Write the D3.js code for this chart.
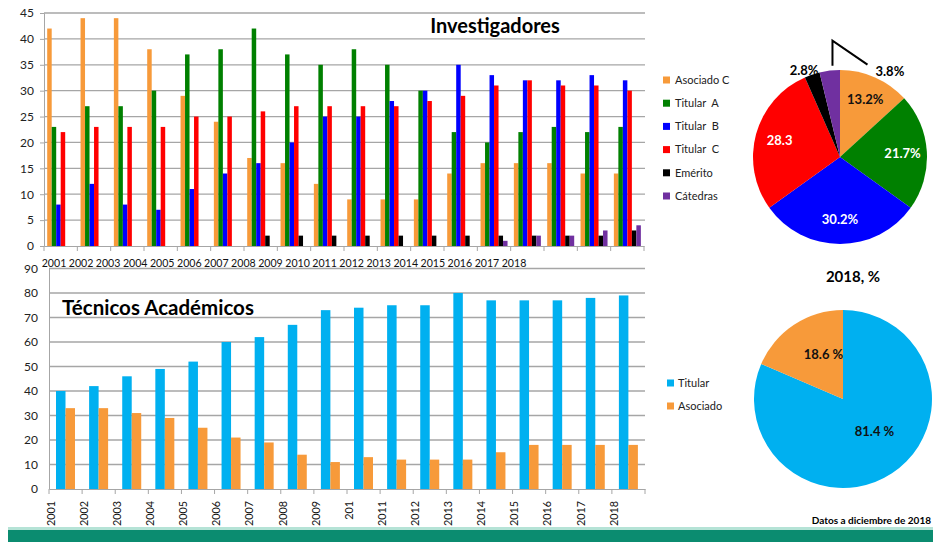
<!DOCTYPE html>
<html>
<head>
<meta charset="utf-8">
<script src="https://cdn.jsdelivr.net/npm/d3@7"></script>
<style>
  body { margin: 0; background: #fff; }
  svg { font-family: Lato, "Open Sans", sans-serif; }
  text { white-space: pre; }
</style>
</head>
<body>
<div id="chart"></div>
<script>
// --- data ---
var years = ['2001','2002','2003','2004','2005','2006','2007','2008','2009',
  '2010','2011','2012','2013','2014','2015','2016','2017','2018'];
var invSeries = ['Asociado C', 'Titular  A', 'Titular  B', 'Titular  C', 'Emérito', 'Cátedras'];
var invColors = ['#f79a3a', '#008000', '#0000ff', '#ff0000', '#000000', '#7030a0'];

var asociadoC = [42, 44, 44, 38, 29, 24, 17, 16, 12, 9, 9, 9, 14, 16, 16, 16, 14, 14];
var titularA  = [23, 27, 27, 30, 37, 38, 42, 37, 35, 38, 35, 30, 22, 20, 22, 23, 22, 23];
var titularB  = [8, 12, 8, 7, 11, 14, 16, 20, 25, 25, 28, 30, 35, 33, 32, 32, 33, 32];
var titularC  = [22, 23, 23, 23, 25, 25, 26, 27, 27, 27, 27, 28, 29, 31, 32, 31, 31, 30];
var emerito   = [0, 0, 0, 0, 0, 0, 2, 2, 2, 2, 2, 2, 2, 2, 2, 2, 2, 3];
var catedras  = [0, 0, 0, 0, 0, 0, 0, 0, 0, 0, 0, 0, 0, 1, 2, 2, 3, 4];

var tecSeries = ['Titular', 'Asociado'];
var tecColors = ['#00b0f0', '#f79a3a'];
var tecTitular  = [40, 42, 46, 49, 52, 60, 62, 67, 73, 74, 75, 75, 80, 77, 77, 77, 78, 79];
var tecAsociado = [33, 33, 31, 29, 25, 21, 19, 14, 11, 13, 12, 12, 12, 15, 18, 18, 18, 18];
var tecYearLabels = ['2001','2002','2003','2004','2005','2006','2007','2008','2009',
  '201','2011','2012','2013','2014','2015','2016','2017','2018'];

var invTicks = [0, 5, 10, 15, 20, 25, 30, 35, 40, 45];
var tecTicks = [0, 10, 20, 30, 40, 50, 60, 70, 80, 90];

var invPieLabels = ['13.2%', '21.7%', '30.2%', '28.3', '2.8%', '3.8%'];
var tecPieLabels = ['81.4 %', '18.6 %'];

var invValues = [asociadoC, titularA, titularB, titularC, emerito, catedras];
var tecValues = [tecTitular, tecAsociado];

var svg = d3.select("#chart").append("svg")
  .attr("width", 933)
  .attr("height", 542);

var gridColor = "#a6a6a6";

// ---------- Investigadores ----------
var x0 = d3.scaleBand().domain(years).range([44, 644]);
var x1 = d3.scaleBand().domain(invSeries).range([3.2, 30.2]);
var y0 = d3.scaleLinear().domain([0, 45]).range([246, 13]);

svg.append("g").selectAll("line")
  .data(invTicks.slice(1))
  .enter().append("line")
  .attr("x1", 44).attr("x2", 645)
  .attr("y1", d => y0(d)).attr("y2", d => y0(d))
  .attr("stroke", gridColor).attr("stroke-width", 1.3);

svg.append("g")
  .attr("transform", "translate(44,0)")
  .call(d3.axisLeft(y0).tickValues(invTicks).tickSize(4).tickPadding(6))
  .call(g => g.selectAll("line, path").attr("stroke", gridColor))
  .call(g => g.selectAll("text").attr("font-size", 12).attr("fill", "#222")
    .style("font-family", "Lato, sans-serif"));

var invGroups = svg.append("g").selectAll("g")
  .data(years)
  .enter().append("g")
  .attr("transform", d => "translate(" + x0(d) + ",0)");

invGroups.selectAll("rect")
  .data((d, i) => invSeries.map((s, k) => ({ s: s, k: k, v: invValues[k][i] })))
  .enter().append("rect")
  .attr("x", d => x1(d.s))
  .attr("width", x1.bandwidth())
  .attr("y", d => y0(d.v))
  .attr("height", d => y0(0) - y0(d.v))
  .attr("fill", d => invColors[d.k]);

svg.append("g")
  .attr("transform", "translate(0,246)")
  .call(d3.axisBottom(x0).tickValues([]).tickSizeOuter(0))
  .call(g => g.select("path").attr("stroke", gridColor));

svg.append("g").selectAll("line")
  .data(years.concat(["end"]))
  .enter().append("line")
  .attr("x1", (d, i) => 44 + i * x0.bandwidth())
  .attr("x2", (d, i) => 44 + i * x0.bandwidth())
  .attr("y1", 246).attr("y2", 251)
  .attr("stroke", gridColor);

// year row under the top chart (not aligned with the bars)
var xLab = d3.scalePoint().domain(years).range([54, 514]);
svg.append("g").selectAll("text")
  .data(years)
  .enter().append("text")
  .attr("x", d => xLab(d))
  .attr("y", 267)
  .attr("text-anchor", "middle")
  .attr("font-size", 10.6)
  .attr("fill", "#111")
  .text(d => d);

svg.append("text")
  .attr("x", 495).attr("y", 33)
  .attr("text-anchor", "middle")
  .attr("font-size", 20).attr("font-weight", "bold")
  .text("Investigadores");

// ---------- Técnicos Académicos ----------
var xt = d3.scaleBand().domain(years).range([49, 645]);
var xt1 = d3.scaleBand().domain(tecSeries).range([7, 26]);
var yt = d3.scaleLinear().domain([0, 90]).range([489, 268.5]);

svg.append("g").selectAll("line")
  .data(tecTicks.slice(1))
  .enter().append("line")
  .attr("x1", 49).attr("x2", 645)
  .attr("y1", d => yt(d)).attr("y2", d => yt(d))
  .attr("stroke", gridColor).attr("stroke-width", 1.3);

svg.append("g")
  .attr("transform", "translate(49,0)")
  .call(d3.axisLeft(yt).tickValues(tecTicks).tickSize(0).tickPadding(11))
  .call(g => g.selectAll("path").attr("stroke", gridColor))
  .call(g => g.selectAll("text").attr("font-size", 12).attr("fill", "#222")
    .style("font-family", "Lato, sans-serif"));

var tecGroups = svg.append("g").selectAll("g")
  .data(years)
  .enter().append("g")
  .attr("transform", d => "translate(" + xt(d) + ",0)");

tecGroups.selectAll("rect")
  .data((d, i) => tecSeries.map((s, k) => ({ s: s, k: k, v: tecValues[k][i] })))
  .enter().append("rect")
  .attr("x", d => xt1(d.s))
  .attr("width", xt1.bandwidth())
  .attr("y", d => yt(d.v))
  .attr("height", d => yt(0) - yt(d.v))
  .attr("fill", d => tecColors[d.k]);

svg.append("g")
  .attr("transform", "translate(0,489)")
  .call(d3.axisBottom(xt).tickValues([]).tickSizeOuter(0))
  .call(g => g.select("path").attr("stroke", gridColor));

svg.append("g").selectAll("line")
  .data(years.concat(["end"]))
  .enter().append("line")
  .attr("x1", (d, i) => 49 + i * xt.bandwidth())
  .attr("x2", (d, i) => 49 + i * xt.bandwidth())
  .attr("y1", 489).attr("y2", 494)
  .attr("stroke", gridColor);

svg.append("g").selectAll("text")
  .data(tecYearLabels)
  .enter().append("text")
  .attr("transform", (d, i) => "translate(" + (xt(years[i]) + 2) + ",501) rotate(-90)")
  .attr("text-anchor", "end")
  .attr("dy", "0.35em")
  .attr("font-size", 10.8)
  .attr("fill", "#111")
  .text(d => d);

svg.append("text")
  .attr("x", 62).attr("y", 315)
  .attr("font-size", 20.5).attr("font-weight", "bold")
  .text("Técnicos Académicos");

// ---------- pies ----------
var pie = d3.pie().sort(null).value(d => d);

// pie 1 : investigadores 2018
var last = years.length - 1;
var inv2018 = invValues.map(v => v[last]);
var r1 = 87;
var pie1 = svg.append("g").attr("transform", "translate(840,157)");
var arc1 = d3.arc().innerRadius(0).outerRadius(r1);
var arcs1 = pie(inv2018);

pie1.selectAll("path")
  .data(arcs1)
  .enter().append("path")
  .attr("d", arc1)
  .attr("fill", (d, i) => invColors[i]);

var lab1 = d3.arc().innerRadius(r1 * 0.72).outerRadius(r1 * 0.72);
pie1.selectAll("text.in")
  .data(arcs1.slice(0, 4))
  .enter().append("text")
  .attr("class", "in")
  .attr("transform", d => "translate(" + lab1.centroid(d) + ")")
  .attr("text-anchor", "middle")
  .attr("dy", "0.35em")
  .attr("font-size", 13).attr("font-weight", "bold")
  .attr("fill", (d, i) => i === 0 ? "#111" : "#fff")
  .text((d, i) => invPieLabels[i]);

// outside labels for the two small slices
var outer1 = d3.arc().innerRadius(r1 + 2).outerRadius(r1 + 2);
var pEm = outer1.centroid(arcs1[4]);
pie1.append("text")
  .attr("x", pEm[0] + 7).attr("y", pEm[1] - 2)
  .attr("text-anchor", "end")
  .attr("dy", "0.35em")
  .attr("font-size", 13).attr("font-weight", "bold")
  .text(invPieLabels[4]);

var pCa = outer1.centroid(arcs1[5]);
var lead = [[pCa[0] + 3, pCa[1] - 3], [pCa[0] + 3, pCa[1] - 28], [pCa[0] + 38, pCa[1] - 4]];
pie1.append("path")
  .attr("d", d3.line()(lead))
  .attr("fill", "none")
  .attr("stroke", "#000")
  .attr("stroke-width", 2);
pie1.append("text")
  .attr("x", lead[2][0] + 8).attr("y", lead[2][1] + 7)
  .attr("dy", "0.35em")
  .attr("font-size", 13).attr("font-weight", "bold")
  .text(invPieLabels[5]);

// legend 1
var leg1 = svg.append("g").selectAll("g")
  .data(invSeries)
  .enter().append("g")
  .attr("transform", (d, i) => "translate(663," + (80 + i * 23.2) + ")");
leg1.append("rect")
  .attr("x", 0).attr("y", -3.5)
  .attr("width", 7).attr("height", 7)
  .attr("fill", (d, i) => invColors[i]);
leg1.append("text")
  .attr("x", 12).attr("dy", "0.35em")
  .attr("font-size", 11).attr("fill", "#222")
  .text(d => d);

// pie 2 : tecnicos 2018
var tec2018 = tecValues.map(v => v[last]);
var r2 = 89;
var pie2 = svg.append("g").attr("transform", "translate(843,399)");
var arc2 = d3.arc().innerRadius(0).outerRadius(r2);
var arcs2 = pie(tec2018);

pie2.selectAll("path")
  .data(arcs2)
  .enter().append("path")
  .attr("d", arc2)
  .attr("fill", (d, i) => tecColors[i]);

var lab2 = d3.arc().innerRadius(r2 * 0.52).outerRadius(r2 * 0.52);
pie2.selectAll("text")
  .data(arcs2)
  .enter().append("text")
  .attr("transform", d => "translate(" + lab2.centroid(d) + ") translate(6,-6)")
  .attr("text-anchor", "middle")
  .attr("dy", "0.35em")
  .attr("font-size", 13).attr("font-weight", "bold")
  .attr("fill", "#111")
  .text((d, i) => tecPieLabels[i]);

svg.append("text")
  .attr("x", 853).attr("y", 282)
  .attr("text-anchor", "middle")
  .attr("font-size", 15).attr("font-weight", "bold")
  .text("2018, %");

var leg2 = svg.append("g").selectAll("g")
  .data(tecSeries)
  .enter().append("g")
  .attr("transform", (d, i) => "translate(667," + (383 + i * 23) + ")");
leg2.append("rect")
  .attr("x", 0).attr("y", -3.5)
  .attr("width", 7).attr("height", 7)
  .attr("fill", (d, i) => tecColors[i]);
leg2.append("text")
  .attr("x", 11).attr("dy", "0.35em")
  .attr("font-size", 11).attr("fill", "#222")
  .text(d => d);

svg.append("text")
  .attr("x", 931).attr("y", 524)
  .attr("text-anchor", "end")
  .attr("font-size", 10).attr("font-weight", "bold")
  .text("Datos a diciembre de 2018");

// footer band
svg.append("rect").attr("x", 8).attr("y", 527).attr("width", 925).attr("height", 3).attr("fill", "#b5e3d6");
svg.append("rect").attr("x", 8).attr("y", 530).attr("width", 925).attr("height", 12).attr("fill", "#0b8c70");
</script>
</body>
</html>
